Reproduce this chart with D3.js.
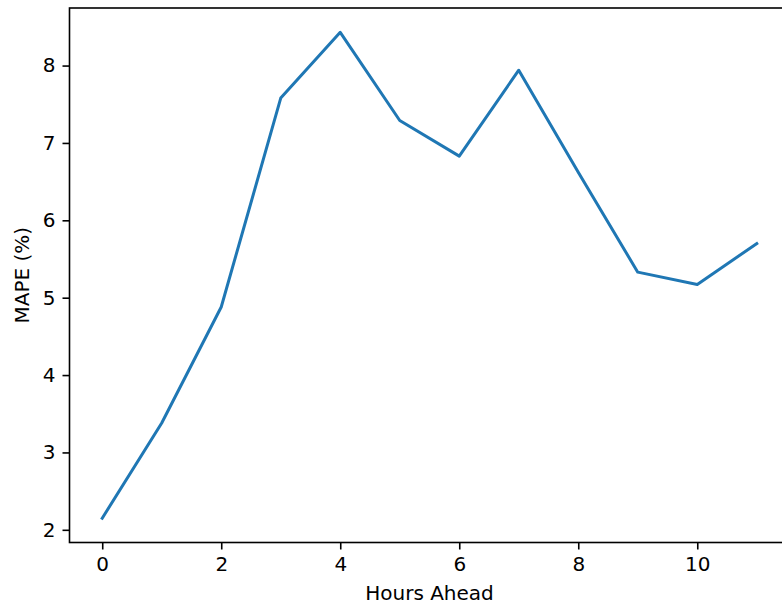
<!DOCTYPE html>
<html>
<head>
<meta charset="utf-8">
<script src="https://cdn.jsdelivr.net/npm/d3@7"></script>
<style>
  html, body { margin: 0; padding: 0; background: #fff; overflow: hidden; }
  svg { display: block; }
  text { font-family: "DejaVu Sans", sans-serif; fill: #000; }
</style>
</head>
<body>
<svg id="chart" width="782" height="608"></svg>
<script>
const hours = [0, 1, 2, 3, 4, 5, 6, 7, 8, 9, 10, 11];
const mape = [2.15, 3.38, 4.88, 7.58, 8.43, 7.29, 6.83, 7.94, 6.62, 5.33, 5.17, 5.70];
const xTicks = [0, 2, 4, 6, 8, 10];
const yTicks = [2, 3, 4, 5, 6, 7, 8];
const xLabel = "Hours Ahead";
const yLabel = "MAPE (%)";

const svg = d3.select("#chart");
const mLeft = 69.5, mRight = 789.5, mTop = 8, mBottom = 542.5;
const fs = 20;

const xMin = d3.min(hours), xMax = d3.max(hours);
const xPad = (xMax - xMin) * 0.05;
const yMin = d3.min(mape), yMax = d3.max(mape);
const yPad = (yMax - yMin) * 0.05;

const x = d3.scaleLinear().domain([xMin - xPad, xMax + xPad]).range([mLeft, mRight]);
const y = d3.scaleLinear().domain([yMin - yPad, yMax + yPad]).range([mBottom, mTop]);

// line
svg.append("path")
  .datum(hours.map((h, i) => [h, mape[i]]))
  .attr("fill", "none")
  .attr("stroke", "#1f77b4")
  .attr("stroke-width", 3)
  .attr("stroke-linejoin", "round")
  .attr("stroke-linecap", "square")
  .attr("d", d3.line().x(d => x(d[0])).y(d => y(d[1])));

// axes
const xAxis = d3.axisBottom(x).tickValues(xTicks).tickSize(7).tickPadding(7).tickFormat(d3.format("d"));
const yAxis = d3.axisLeft(y).tickValues(yTicks).tickSize(7).tickPadding(7).tickFormat(d3.format("d"));

const gx = svg.append("g").attr("transform", `translate(0,${mBottom})`).call(xAxis);
const gy = svg.append("g").attr("transform", `translate(${mLeft},0)`).call(yAxis);
[gx, gy].forEach(g => {
  g.select(".domain").remove();
  g.selectAll(".tick line").attr("stroke", "#000").attr("stroke-width", 1.6);
  g.selectAll(".tick text").attr("font-size", fs).attr("font-family", "DejaVu Sans").attr("fill", "#000");
});

// spines
svg.append("rect")
  .attr("x", mLeft).attr("y", mTop)
  .attr("width", mRight - mLeft).attr("height", mBottom - mTop)
  .attr("fill", "none").attr("stroke", "#000").attr("stroke-width", 1.6);

// labels
svg.append("text")
  .attr("x", (mLeft + mRight) / 2).attr("y", 600)
  .attr("text-anchor", "middle").attr("font-size", fs)
  .text(xLabel);

svg.append("text")
  .attr("transform", `translate(28.5,${(mTop + mBottom) / 2}) rotate(-90)`)
  .attr("text-anchor", "middle").attr("font-size", fs)
  .text(yLabel);
</script>
</body>
</html>
